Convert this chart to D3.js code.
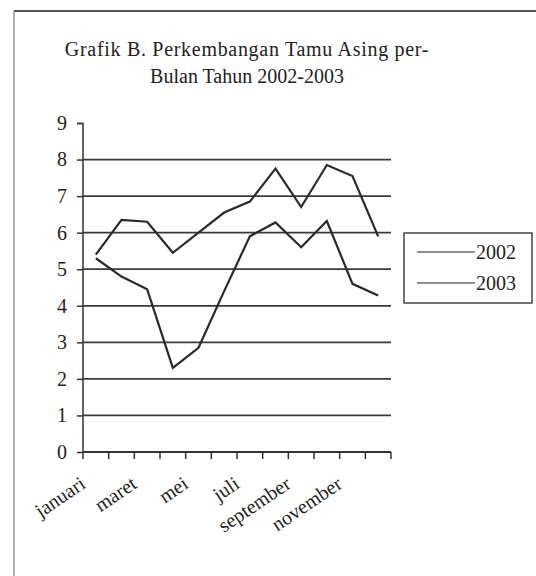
<!DOCTYPE html>
<html>
<head>
<meta charset="utf-8">
<script src="https://cdn.jsdelivr.net/npm/d3@7"></script>
<style>
  html, body { margin: 0; padding: 0; background: #fff; }
  svg { display: block; }
  text { font-family: "Liberation Serif", "DejaVu Serif", serif; fill: #222; }
</style>
</head>
<body>
<svg id="chart" width="536" height="576"></svg>
<script>
const months = ["januari","februari","maret","april","mei","juni","juli","agustus","september","oktober","november","desember"];
const shownLabels = ["januari","maret","mei","juli","september","november"];
const values2002 = [5.4, 6.35, 6.3, 5.45, 6.0, 6.55, 6.85, 7.75, 6.7, 7.85, 7.55, 5.9];
const values2003 = [5.3, 4.8, 4.45, 2.3, 2.85, 4.4, 5.9, 6.28, 5.6, 6.32, 4.6, 4.28];
const yTicks = [0,1,2,3,4,5,6,7,8,9];
const gridValues = [1,2,3,4,5,6,7,8];
const seriesNames = ["2002","2003"];
const titleLines = ["Grafik B. Perkembangan Tamu Asing per-", "Bulan Tahun 2002-2003"];

const svg = d3.select("#chart");

// frame
svg.append("line").attr("x1",14).attr("x2",14).attr("y1",11).attr("y2",576)
  .attr("stroke","#9a9a9a").attr("stroke-width",1.5);
svg.append("line").attr("x1",14).attr("x2",536).attr("y1",11).attr("y2",11)
  .attr("stroke","#555").attr("stroke-width",2);

// title
svg.append("g").selectAll("text").data(titleLines).enter().append("text")
  .attr("x", 247).attr("y", (d,i) => 56 + i*27)
  .attr("text-anchor","middle").attr("font-size", 20)
  .attr("letter-spacing", (d,i) => i === 0 ? 0.7 : 0)
  .text(d => d);

const x = d3.scaleBand().domain(months).range([83, 391]).padding(0);
const y = d3.scaleLinear().domain([0, 9]).range([452, 123]);
const cx = d => x(d) + x.bandwidth()/2;

// gridlines
svg.append("g").selectAll("line").data(gridValues).enter().append("line")
  .attr("x1", 83).attr("x2", 391).attr("y1", d => y(d)).attr("y2", d => y(d))
  .attr("stroke","#3a3a3a").attr("stroke-width",1.8);

// y axis
const yAxis = d3.axisLeft(y).tickValues(yTicks).tickSize(6).tickPadding(10).tickFormat(d3.format("d"));
const yg = svg.append("g").attr("transform","translate(83,0)").call(yAxis);
yg.select(".domain").attr("stroke","#333").attr("stroke-width",1.5).attr("d","M-6,123.5H0V452");
yg.selectAll(".tick line").attr("stroke","#333").attr("stroke-width",1.5);
yg.selectAll(".tick text").attr("font-size",20).attr("font-family","Liberation Serif").attr("fill","#222");

// x axis: ticks between categories
const boundaries = months.map(m => x(m)).concat([x(months[months.length-1]) + x.bandwidth()]);
svg.append("line").attr("x1",83).attr("x2",391).attr("y1",452).attr("y2",452)
  .attr("stroke","#333").attr("stroke-width",1.8);
svg.append("g").selectAll("line").data(boundaries).enter().append("line")
  .attr("x1", d => d).attr("x2", d => d).attr("y1", 452).attr("y2", 459)
  .attr("stroke","#333").attr("stroke-width",1.5);

svg.append("g").selectAll("text").data(shownLabels).enter().append("text")
  .attr("transform", d => `translate(${cx(d) - 9},${487}) rotate(-34)`)
  .attr("text-anchor","end").attr("font-size",20).text(d => d);

// lines
const line = d3.line().x((d,i) => cx(months[i])).y(d => y(d));
[values2002, values2003].forEach(vals => {
  svg.append("path").datum(vals).attr("d", line)
    .attr("fill","none").attr("stroke","#2a2a2a").attr("stroke-width",2.2)
    .attr("stroke-linejoin","miter");
});

// legend
const lg = svg.append("g");
lg.append("rect").attr("x",404).attr("y",233).attr("width",128).attr("height",70)
  .attr("fill","#fff").attr("stroke","#444").attr("stroke-width",1.5);
const items = lg.selectAll("g.item").data(seriesNames).enter().append("g")
  .attr("transform",(d,i) => `translate(0,${252 + i*31})`);
items.append("line").attr("x1",417).attr("x2",475).attr("y1",0).attr("y2",0)
  .attr("stroke","#222").attr("stroke-width",1.2);
items.append("text").attr("x",476).attr("y",7).attr("font-size",20).text(d => d);
</script>
</body>
</html>
